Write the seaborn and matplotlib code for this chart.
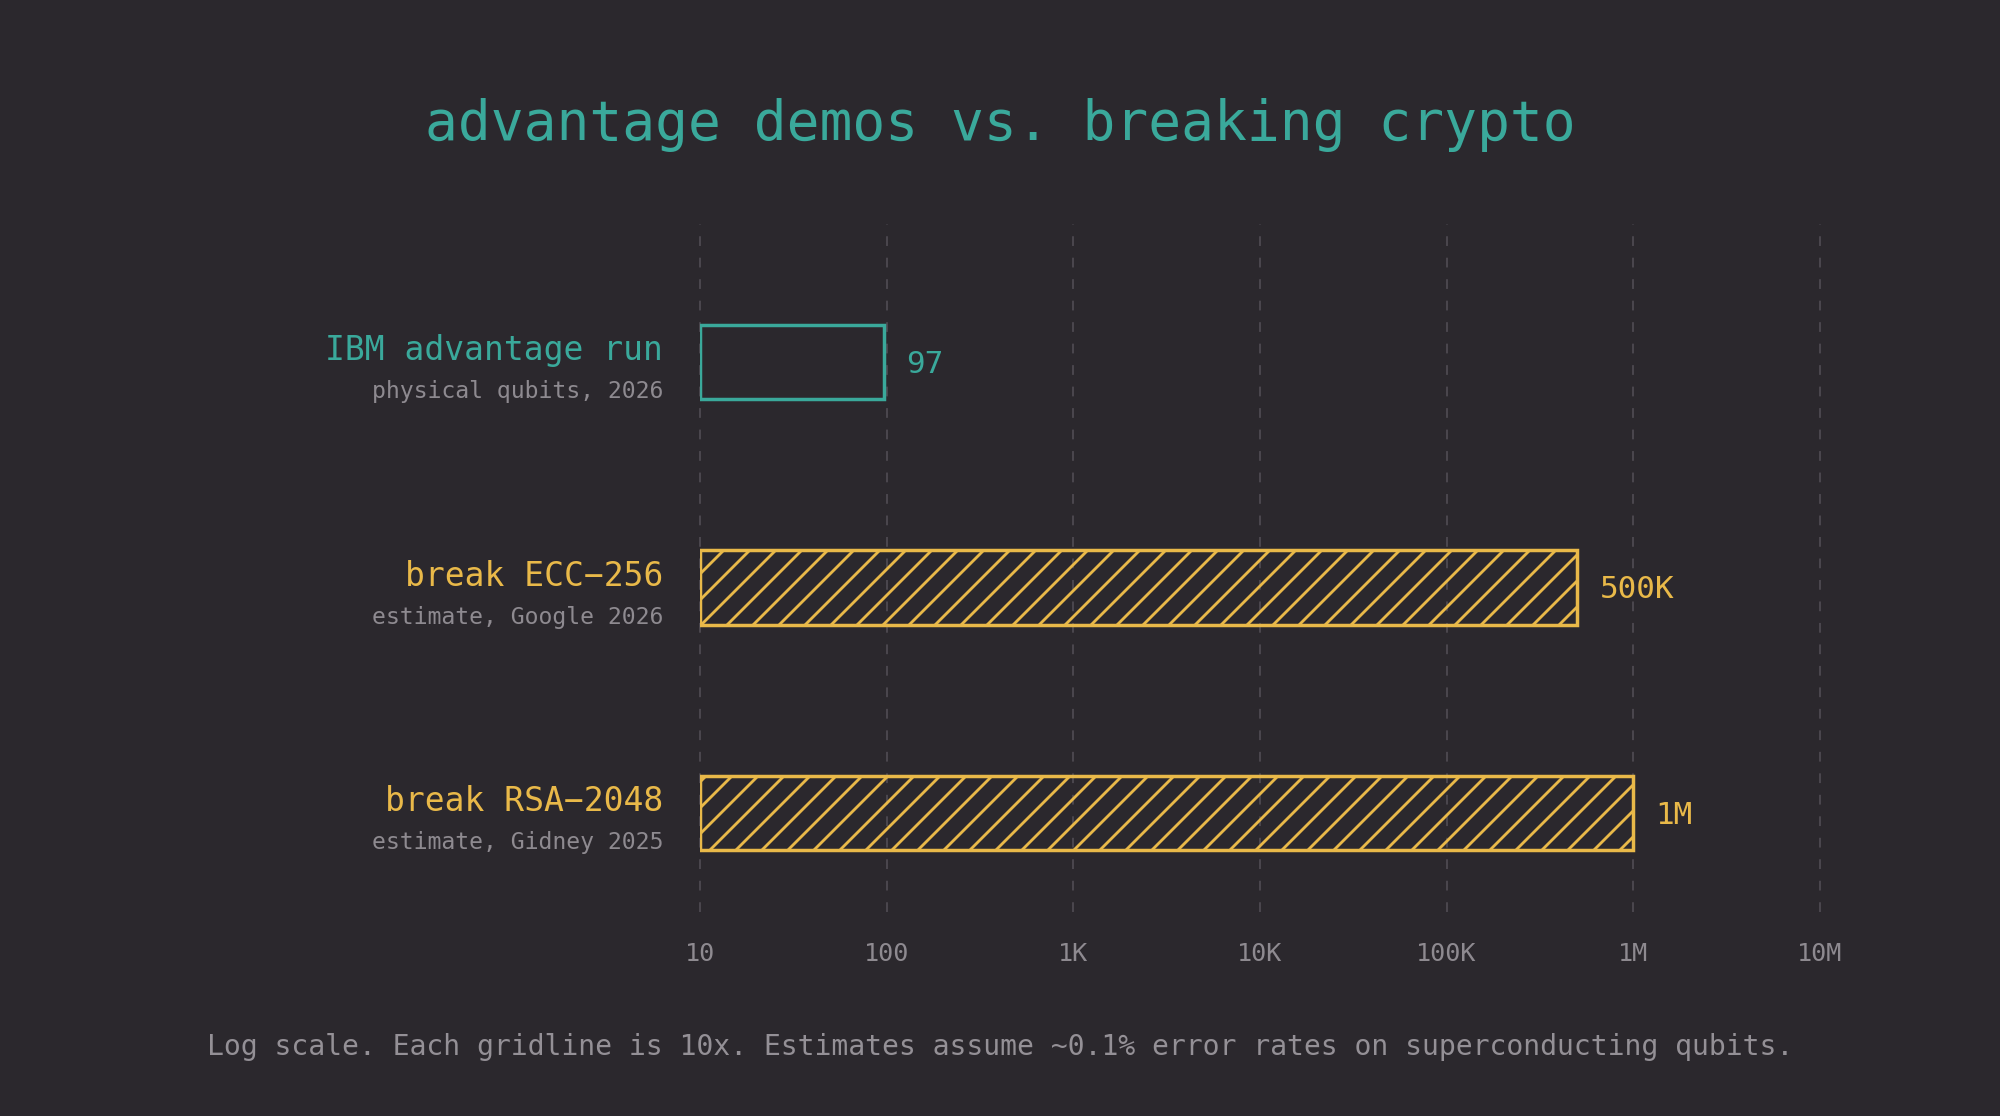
import numpy as np
import pandas as pd
import matplotlib.pyplot as plt
import seaborn as sns

# chart data
labels = ["IBM advantage run", "break ECC\u2212256", "break RSA\u22122048"]
sublabels = ["physical qubits, 2026", "estimate, Google 2026", "estimate, Gidney 2025"]
qubits = [97, 500_000, 1_000_000]
value_text = ["97", "500K", "1M"]
kinds = ["demo", "estimate", "estimate"]
tick_values = [10, 100, 1e3, 1e4, 1e5, 1e6, 1e7]
tick_labels = ["10", "100", "1K", "10K", "100K", "1M", "10M"]

BG = "#2b282d"
TEAL = "#3aa99b"
GOLD = "#e9b949"
GREY = "#8e8a90"
GRID = "#4b474e"
colors = {"demo": TEAL, "estimate": GOLD}
hatches = {"demo": "", "estimate": "//"}

sns.set_style("dark", {"axes.facecolor": BG, "figure.facecolor": BG})
plt.rcParams["font.family"] = ["DejaVu Sans Mono", "DejaVu Sans"]
plt.rcParams["hatch.linewidth"] = 1.3

df = pd.DataFrame({"label": labels, "qubits": qubits, "kind": kinds})

dpi = 156.25
fig = plt.figure(figsize=(2000 / dpi, 1116 / dpi), dpi=dpi)
ax = fig.add_axes([0.35, 1 - 912 / 1116, 0.56, (912 - 224) / 1116])

sns.barplot(data=df, x="qubits", y="label", orient="h", width=0.33,
            ax=ax, color=BG)
ax.set_xscale("log")

x0 = tick_values[0]
for p, v, k in zip(ax.patches, qubits, kinds):
    p.set_x(x0)
    p.set_width(v - x0)
    p.set_facecolor("none")
    p.set_edgecolor(colors[k])
    p.set_linewidth(1.6)
    p.set_hatch(hatches[k])

ax.set_xlim(tick_values[0], tick_values[-1])
ax.set_ylim(2.439, -0.612)

ax.set_xticks(tick_values)
ax.set_xticklabels(tick_labels)
ax.xaxis.set_minor_locator(plt.NullLocator())
ax.set_yticks([])
ax.set_xlabel("")
ax.set_ylabel("")
ax.tick_params(axis="x", length=0, pad=14, labelsize=11.6, labelcolor=GREY)
for s in ax.spines.values():
    s.set_visible(False)
for xv in tick_values:
    ax.axvline(xv, color=GRID, lw=0.9, ls=(0, (5, 6)), zorder=0, clip_on=False)

# category labels on the left
for i, (lab, sub, k) in enumerate(zip(labels, sublabels, kinds)):
    ax.annotate(lab, xy=(0, i), xycoords=("axes fraction", "data"),
                xytext=(-17, 0.9), textcoords="offset points",
                ha="right", va="baseline", fontsize=15.2, color=colors[k])
    ax.annotate(sub, xy=(0, i), xycoords=("axes fraction", "data"),
                xytext=(-17, -16.6), textcoords="offset points",
                ha="right", va="baseline", fontsize=10.65, color=GREY)

# value labels at bar ends
for i, (v, t, k) in enumerate(zip(qubits, value_text, kinds)):
    ax.annotate(t, xy=(v, i), xytext=(10.3, -5), textcoords="offset points",
                ha="left", va="baseline", fontsize=14.3, color=colors[k])

fig.text(0.5, 1 - 140 / 1116, "advantage demos vs. breaking crypto",
         ha="center", va="baseline", fontsize=25.2, color=TEAL)
fig.text(0.5, 1 - 1055 / 1116,
         "Log scale. Each gridline is 10x. Estimates assume ~0.1% error rates on superconducting qubits.",
         ha="center", va="baseline", fontsize=12.97, color="#949096")

fig.savefig("out.png", dpi=dpi, facecolor=BG)
